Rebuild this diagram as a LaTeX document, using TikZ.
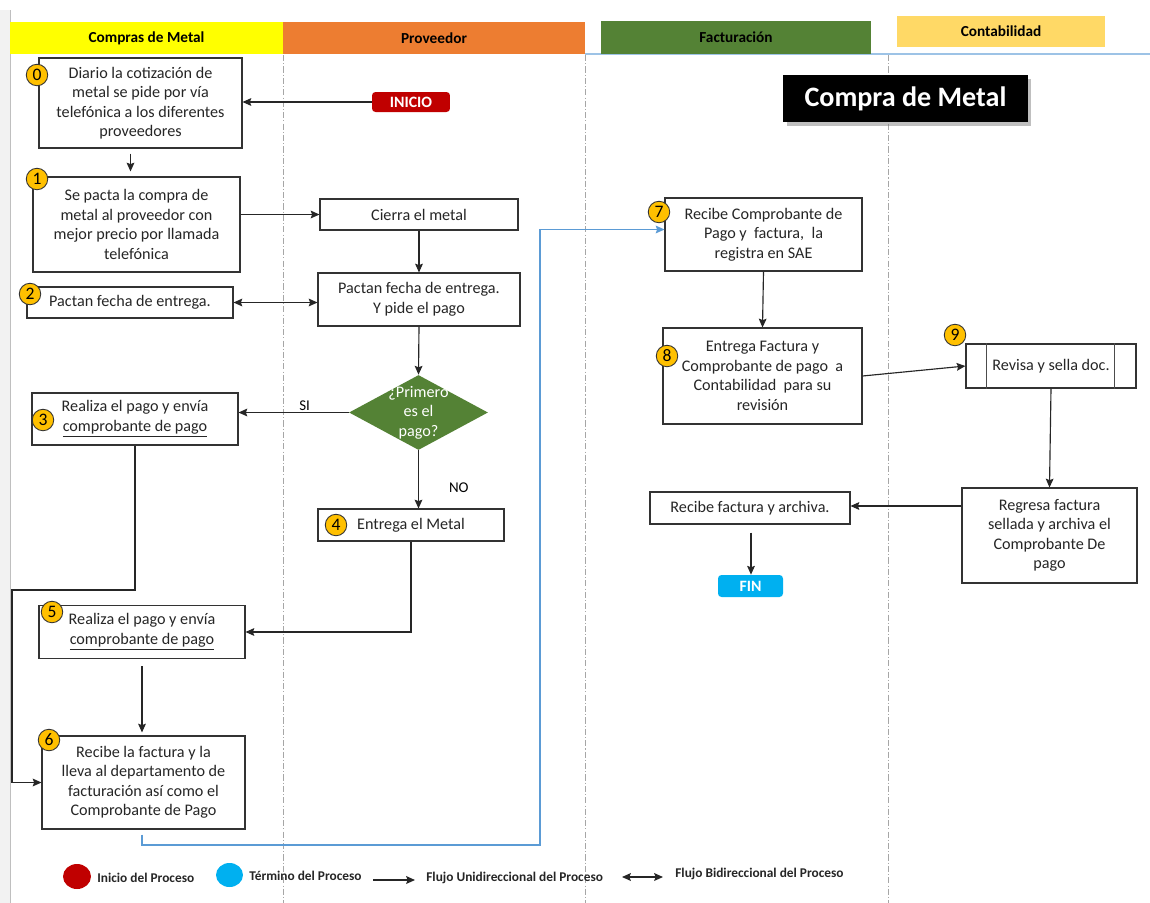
\documentclass[tikz,border=0pt]{standalone}
\usepackage{fontspec}
\setmainfont{Carlito}
\usetikzlibrary{calc}
\usetikzlibrary{arrows.meta}
\usetikzlibrary{positioning}
\usetikzlibrary{shapes.geometric,shadows}
\usepackage{xcolor}

\definecolor{amarillo}{HTML}{FFFF00}
\definecolor{naranja}{HTML}{ED7D31}
\definecolor{verde}{HTML}{548235}
\definecolor{oro}{HTML}{FFD966}
\definecolor{ambar}{HTML}{FFC000}
\definecolor{rojo}{HTML}{C00000}
\definecolor{celeste}{HTML}{00B0F0}
\definecolor{azul}{HTML}{5B9BD5}
\definecolor{azulclaro}{HTML}{9DC3E6}

\newcommand{\cuerpo}{\fontsize{9.2}{11.1}\selectfont}

\tikzset{
 caja/.style={draw=black!80, line width=0.6pt, fill=white, align=center, inner sep=1pt, font=\cuerpo, text=black!85},
 num/.style={circle, draw=black!80, fill=ambar, line width=0.5pt, inner sep=0pt, minimum size=0.43cm, font=\fontsize{10}{10}\selectfont},
 carril/.style={inner sep=0pt, font=\bfseries\fontsize{8.7}{10}\selectfont},
 flecha/.style={draw=black!85, line width=0.65pt, ->, >={Stealth[length=5pt, width=4.4pt, inset=0.8pt]}},
 doble/.style={draw=black!85, line width=0.65pt, <->, >={Stealth[length=5pt, width=4.4pt, inset=0.8pt]}},
 separador/.style={gray!70, line width=0.5pt, dash pattern=on 3.5pt off 1.2pt on 0.6pt off 1.2pt},
 leyenda/.style={font=\bfseries\fontsize{7.6}{8}\selectfont, inner sep=0pt, anchor=west, text=black!85},
 terminal/.style={rounded corners=2pt, text=white, inner sep=0pt, font=\bfseries\fontsize{9}{10}\selectfont}
}

\begin{document}
\begin{tikzpicture}[x=0.02cm, y=-0.02cm]
\fill[white] (0,0) rectangle (1150,903);
\useasboundingbox (0,0) rectangle (1150,903);
\fill[black!5] (0,10) rectangle (10,903);
\draw[black!25] (10,10) -- (10,903);
\draw[azulclaro, line width=0.8pt] (585,54) -- (1150,54);
\foreach \x in {283,585,888} {
 \draw[separador] (\x,55) -- (\x,903);
 }

\node[carril, fill=amarillo, minimum width=5.46cm, minimum height=0.64cm] (compras) at (146.5,38) {Compras de Metal};
\node[carril, fill=naranja, minimum width=6.04cm, minimum height=0.64cm] (proveedor) at (434,38) {Proveedor};
\node[carril, fill=verde, minimum width=5.4cm, minimum height=0.66cm] (facturacion) at (736,37.5) {Facturación};
\node[carril, fill=oro, minimum width=4.16cm, minimum height=0.62cm] (contabilidad) at (1001,31.5) {Contabilidad};

\node[fill=black, text=white, font=\bfseries\fontsize{16}{18}\selectfont, minimum width=4.9cm, minimum height=0.94cm, drop shadow={opacity=0.5, shadow xshift=2pt, shadow yshift=-2pt}] (titulo) at (905.5,98.5) {Compra de Metal};

\node[terminal, fill=rojo, minimum width=1.56cm, minimum height=0.4cm] (inicio) at (411,102) {INICIO};
\node[terminal, fill=celeste, minimum width=1.3cm, minimum height=0.44cm] (fin) at (750.5,586) {FIN};

\node[caja, minimum width=4.06cm, minimum height=1.8cm] (diario) at (140.5,103) {Diario la cotización de\\metal se pide por vía\\telefónica a los diferentes\\proveedores};
\node[caja, minimum width=4.14cm, minimum height=1.9cm] (pacta) at (136.5,224.5) {Se pacta la compra de\\metal al proveedor con\\mejor precio por llamada\\telefónica};
\node[caja, minimum width=3.96cm, minimum height=0.62cm] (cierra) at (419,214.5) {Cierra el metal};
\node[caja, minimum width=4.04cm, minimum height=1.06cm] (pactan) at (419,299.5) {Pactan fecha de entrega.\\Y pide el pago};
\node[caja, minimum width=4.12cm, minimum height=0.62cm] (fecha) at (130,302.5) {Pactan fecha de entrega.};
\node[shape=diamond, fill=verde, minimum width=2.78cm, minimum height=1.5cm, inner sep=0pt, label={[text=white, align=center, font=\cuerpo]center:{¿Primero\\es el\\pago?}}] (pregunta) at (418.5,412.5) {};
\node[caja, minimum width=4.12cm, minimum height=1.04cm] (pago3) at (135,419) {Realiza el pago y envía\\\underline{comprobante de pago}};
\node[caja, minimum width=3.72cm, minimum height=0.64cm] (entrega) at (411,525) {Entrega el Metal};
\node[caja, minimum width=4.12cm, minimum height=1.06cm] (pago5) at (142,632) {Realiza el pago y envía\\\underline{comprobante de pago}};
\node[caja, minimum width=4.06cm, minimum height=1.86cm] (recibe) at (143.5,782.5) {Recibe la factura y la\\lleva al departamento de\\facturación así como el\\Comprobante de Pago};
\node[caja, minimum width=3.94cm, minimum height=1.46cm] (compro) at (763.5,234.5) {Recibe Comprobante de\\Pago y~ factura,~ la\\registra en SAE};
\node[caja, minimum width=3.98cm, minimum height=1.92cm] (entregaf) at (762.5,376) {Entrega Factura y\\Comprobante de pago~ a\\Contabilidad~ para su\\revisión};
\node[caja, minimum width=3.4cm, minimum height=0.88cm] (revisa) at (1051,366) {Revisa y sella doc.};
\draw[black!70, line width=0.8pt] ($(revisa.north west)+(21,0)$) -- ($(revisa.south west)+(21,0)$);
\draw[black!70, line width=0.8pt] ($(revisa.north east)+(-22,0)$) -- ($(revisa.south east)+(-22,0)$);
\node[caja, minimum width=3.5cm, minimum height=1.9cm] (regresa) at (1049.5,535.5) {Regresa factura\\sellada y archiva el\\Comprobante De\\pago};
\node[caja, minimum width=4.0cm, minimum height=0.64cm] (archiva) at (750,508) {Recibe factura y archiva.};

\node[num] (b0) at (37,75) {0};
\node[num] (b1) at (37,179) {1};
\node[num] (b2) at (30,294) {2};
\node[num] (b3) at (43,420) {3};
\node[num] (b4) at (336,525) {4};
\node[num] (b5) at (52,612) {5};
\node[num] (b6) at (49,740) {6};
\node[num] (b7) at (659,212) {7};
\node[num] (b8) at (667,356) {8};
\node[num] (b9) at (955,335) {9};

\coordinate (retorno) at (12,590);
\coordinate (azulbajo) at (540,845);
\draw[flecha] (inicio.west) -- (inicio.west -| diario.east);
\draw[flecha] ($(diario.south)+(-10,5)$) -- ($(diario.south |- pacta.north)+(-10,-5)$);
\draw[flecha] (pacta.east |- cierra) -- (cierra.west);
\draw[flecha] (cierra.south) -- (pactan.north);
\draw[doble] (fecha.east) -- (fecha.east -| pactan.west);
\draw[flecha] (pactan.south) -- (pregunta.north);
\draw[flecha] (pregunta.west) -- (pregunta.west -| pago3.east) node[pos=0.4, above, inner sep=1pt, font=\fontsize{8.5}{10}\selectfont]{SI};
\draw[flecha] (pregunta.south) -- (pregunta.south |- entrega.north) node[pos=0.64, right=0.6cm, inner sep=0pt, font=\fontsize{8.5}{10}\selectfont]{NO};
\draw[flecha] (pago3.south) |- (retorno) |- (recibe.west);
\draw[flecha] (entrega.south) |- (pago5.east);
\draw[flecha] ($(pago5.south)+(0,7)$) -- ($(pago5.south |- recibe.north)+(0,-3)$);
\draw[flecha, draw=azul, -{Stealth[length=5pt, width=4.4pt, inset=0.8pt, fill=azul]}] ($(recibe.south)+(-1.5,5)$) |- (azulbajo) |- ($(compro.west)+(0,-5)$);
\draw[flecha] (compro.south) -- (entregaf.north);
\draw[flecha] (entregaf.east) -- (revisa.west);
\draw[flecha] (revisa.south) -- (regresa.north);
\draw[flecha] ($(regresa.west |- archiva.east)+(0,-2)$) -- ($(archiva.east)+(0,-2)$);
\draw[flecha] ($(archiva.south)+(1,8)$) -- ($(archiva.south |- fin.north)+(1,0)$);

\node[ellipse, fill=rojo, minimum width=0.56cm, minimum height=0.5cm, inner sep=0pt] (leyinicio) at (77,876.5) {};
\node[leyenda] (txtinicio) at (97,878) {Inicio del Proceso};
\node[ellipse, fill=celeste, minimum width=0.54cm, minimum height=0.48cm, inner sep=0pt] (leyfin) at (229.5,875) {};
\node[leyenda] (txtfin) at (249,876) {Término del Proceso};
\coordinate (uni1) at (373,880);
\coordinate (uni2) at (415,880);
\draw[flecha, line width=0.9pt] (uni1) -- (uni2);
\node[leyenda] (txtuni) at (426,878) {Flujo Unidireccional del Proceso};
\coordinate (bi1) at (622,877);
\coordinate (bi2) at (663,877);
\draw[doble, line width=0.9pt] (bi1) -- (bi2);
\node[leyenda] (txtbi) at (675,874) {Flujo Bidireccional del Proceso};
\end{tikzpicture}
\end{document}
